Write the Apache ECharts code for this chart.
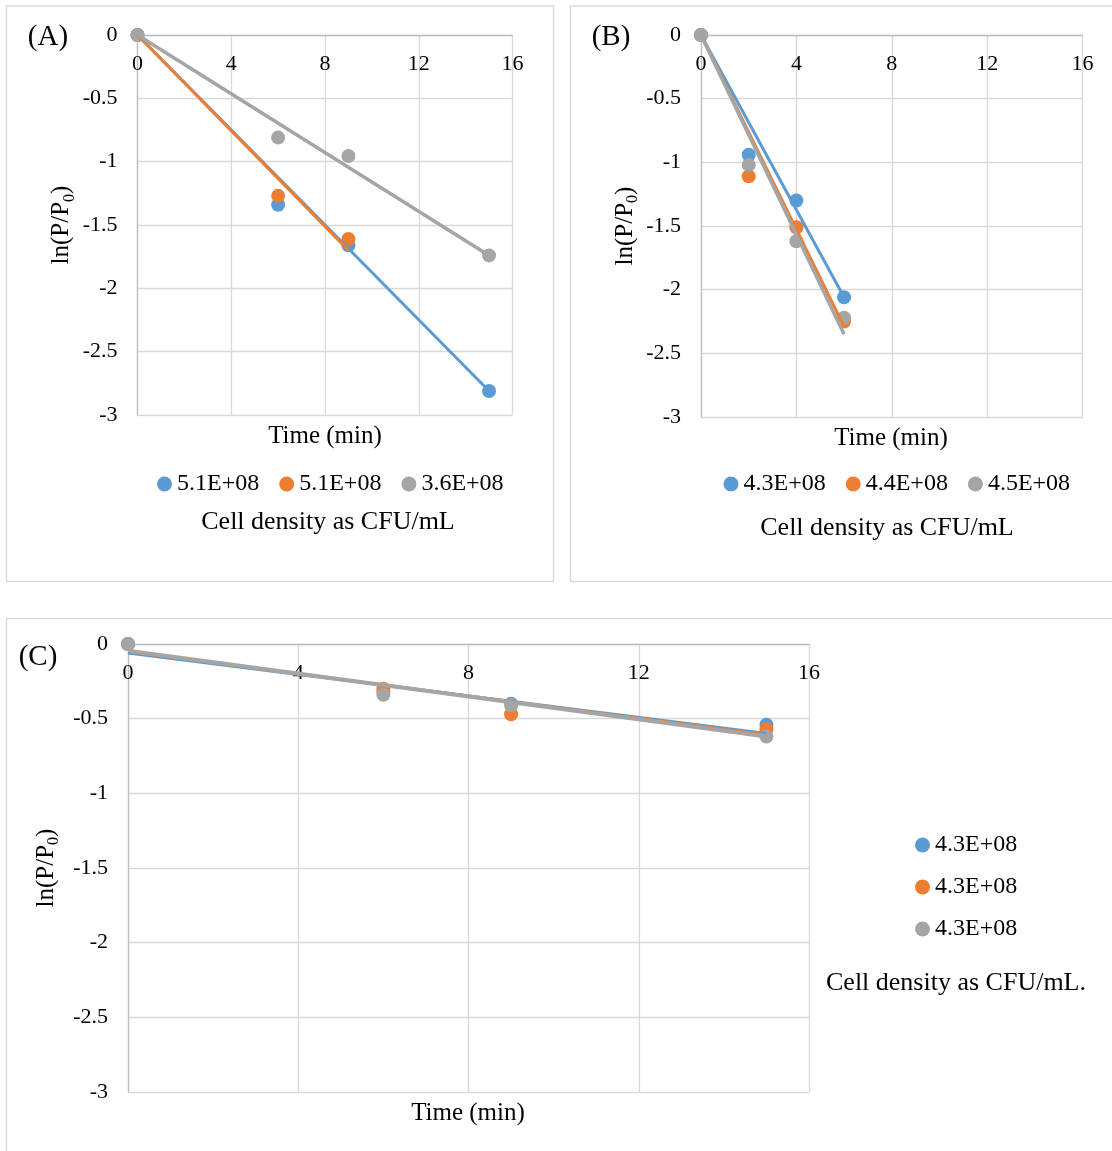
<!DOCTYPE html>
<html>
<head>
<meta charset="utf-8">
<title>ln(P/P0) vs time</title>
<script src="https://cdn.jsdelivr.net/npm/echarts@6/dist/echarts.min.js"></script>
<style>
  html, body { margin: 0; padding: 0; background: #fff; }
  #chart { width: 1112px; height: 1151px; }
</style>
</head>
<body>
<div id="chart"></div>
<script>
// Panel A
const timeA = [0, 6, 9, 15];
const blueA = [0, -1.34, -1.66, -2.81];
const orangeA = [0, -1.27, -1.61];
const grayA = [0, -0.81, -0.955, -1.74];
// trendlines: [start, end]
const fitBlueA = [[0, 0], [15, -2.81]];
const fitOrangeA = [[0, 0], [9, -1.70]];
const fitGrayA = [[0, 0], [15, -1.74]];
const legendA = ['5.1E+08', '5.1E+08', '3.6E+08'];

// Panel B
const timeB = [0, 2, 4, 6];
const blueB = [0, -0.94, -1.30, -2.06];
const orangeB = [0, -1.11, -1.51, -2.25];
const grayB = [0, -1.02, -1.62, -2.22];
const fitBlueB = [[0, 0], [6, -2.06]];
const fitOrangeB = [[0, 0], [6, -2.29]];
const fitGrayB = [[0, 0], [6, -2.35]];
const legendB = ['4.3E+08', '4.4E+08', '4.5E+08'];

// Panel C
const timeC = [0, 6, 9, 15];
const blueC = [0, -0.32, -0.40, -0.54];
const orangeC = [0, -0.30, -0.47, -0.57];
const grayC = [0, -0.34, -0.41, -0.62];
const fitBlueC = [[0, -0.06], [15, -0.60]];
const fitOrangeC = [[0, -0.05], [15, -0.61]];
const fitGrayC = [[0, -0.045], [15, -0.62]];
const legendC = ['4.3E+08', '4.3E+08', '4.3E+08'];

const xRange = { min: 0, max: 16, interval: 4 };
const yRange = { min: -3, max: 0, interval: 0.5 };

const colors = ['#5B9BD5', '#ED7D31', '#A5A5A5'];
const FONT = '"Liberation Serif", "Times New Roman", serif';

const chart = echarts.init(document.getElementById('chart'));

const panels = [
    { key: 'A', time: timeA, sets: [blueA, orangeA, grayA], fits: [fitBlueA, fitOrangeA, fitGrayA], labels: legendA },
    { key: 'B', time: timeB, sets: [blueB, orangeB, grayB], fits: [fitBlueB, fitOrangeB, fitGrayB], labels: legendB },
    { key: 'C', time: timeC, sets: [blueC, orangeC, grayC], fits: [fitBlueC, fitOrangeC, fitGrayC], labels: legendC }
];

const grids = [
    { left: 137.5, top: 35, width: 375, height: 380 },
    { left: 701, top: 35, width: 381.5, height: 382 },
    { left: 128, top: 644, width: 681, height: 448 }
];

const labelMap = {};
const series = [];
const xAxes = [];
const yAxes = [];

panels.forEach((p, gi) => {
    xAxes.push({
        gridIndex: gi, type: 'value', position: 'top',
        min: xRange.min, max: xRange.max, interval: xRange.interval,
        axisLine: { show: true, onZero: false, lineStyle: { color: '#BFBFBF', width: 1.3 } },
        axisTick: { show: false },
        axisLabel: { inside: true, margin: 18, fontSize: 22, color: '#000', fontFamily: FONT },
        splitLine: { lineStyle: { color: '#D9D9D9', width: 1.3 } }
    });
    yAxes.push({
        gridIndex: gi, type: 'value',
        min: yRange.min, max: yRange.max, interval: yRange.interval,
        axisLine: { show: true, onZero: false, lineStyle: { color: '#BFBFBF', width: 1.3 } },
        axisTick: { show: false },
        axisLabel: { margin: 20, fontSize: 22, color: '#000', fontFamily: FONT },
        splitLine: { lineStyle: { color: '#D9D9D9', width: 1.3 } },
        name: '{a|ln(P/P}{s|0}{a|)}',
        nameLocation: 'middle', nameRotate: 90, nameGap: gi === 2 ? 63 : 60,
        nameTextStyle: {
            rich: {
                a: { fontSize: 25, fontFamily: FONT, color: '#000' },
                s: { fontSize: 16, fontFamily: FONT, color: '#000', padding: [16, 0, 0, 0] }
            }
        }
    });

    // data markers first, trendlines drawn over them
    p.sets.forEach((vals, i) => {
        const name = p.key + i;
        labelMap[name] = p.labels[i];
        series.push({
            name: name, type: 'scatter', xAxisIndex: gi, yAxisIndex: gi,
            symbol: 'circle', symbolSize: 14,
            itemStyle: { color: colors[i], opacity: 1 },
            data: vals.map((v, k) => [p.time[k], v])
        });
    });
    p.fits.forEach((fit, i) => {
        series.push({
            name: p.key + 'fit' + i, type: 'line', xAxisIndex: gi, yAxisIndex: gi,
            showSymbol: false, symbol: 'none',
            lineStyle: { color: colors[i], width: i === 2 ? (gi === 2 ? 4 : 3.5) : 3 },
            data: fit
        });
    });
});

const legendText = { fontSize: 24, fontFamily: FONT, color: '#000' };
const legends = [
    { data: ['A0', 'A1', 'A2'], left: 152, top: 467, itemGap: 20 },
    { data: ['B0', 'B1', 'B2'], left: 718.5, top: 467, itemGap: 20 },
    { data: ['C0', 'C1', 'C2'], left: 910, top: 828, orient: 'vertical', itemGap: 18 }
].map(l => Object.assign({
    icon: 'circle', itemWidth: 15, itemHeight: 15, selectedMode: false,
    formatter: n => labelMap[n], textStyle: legendText
}, l));

function label(text, x, y, size) {
    return {
        type: 'text', x: x, y: y, silent: true,
        style: { text: text, fill: '#000', font: size + 'px ' + FONT, textAlign: 'center', textVerticalAlign: 'middle' }
    };
}
function box(x, y, w, h) {
    return {
        type: 'rect', silent: true, z: -1,
        shape: { x: x, y: y, width: w, height: h },
        style: { fill: 'none', stroke: '#D9D9D9', lineWidth: 1.5 }
    };
}

chart.setOption({
    backgroundColor: '#fff',
    animation: false,
    grid: grids,
    xAxis: xAxes,
    yAxis: yAxes,
    legend: legends,
    series: series,
    graphic: [
        box(6.5, 6, 547, 575.5),
        box(570.5, 6, 560, 575.5),
        box(6.5, 618.5, 1120, 560),
        label('(A)', 48, 37, 29),
        label('(B)', 611, 37, 29),
        label('(C)', 38, 657, 29),
        label('Time (min)', 325, 436, 25),
        label('Time (min)', 891, 438, 25),
        label('Time (min)', 468, 1113, 25),
        label('Cell density as CFU/mL', 328, 522, 26),
        label('Cell density as CFU/mL', 887, 528, 26),
        label('Cell density as CFU/mL.', 956, 983, 26)
    ]
});

window.addEventListener('resize', () => chart.resize());
</script>
</body>
</html>
